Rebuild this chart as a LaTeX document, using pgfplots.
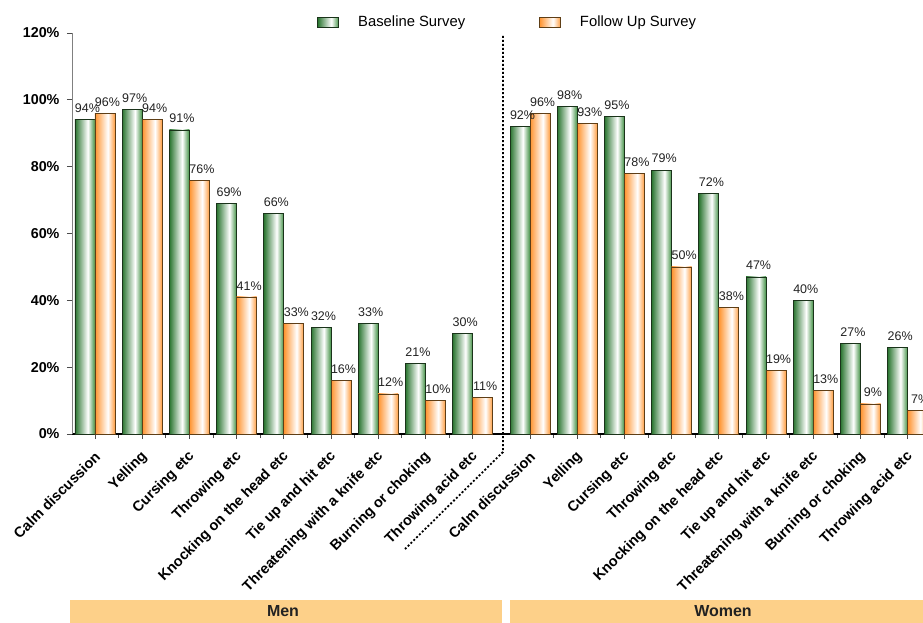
\documentclass[border=0pt]{standalone}
\usepackage{fontspec}
\setmainfont{Liberation Sans}
\usepackage{pgfplots}
\pgfplotsset{compat=1.18}
\definecolor{gdark}{HTML}{2A7530}
\definecolor{gright}{HTML}{3F8F42}
\definecolor{odark}{HTML}{FF9430}
\definecolor{oright}{HTML}{FF9C3E}
\definecolor{gline}{HTML}{1A331A}
\definecolor{oline}{HTML}{5E3E16}
\definecolor{banner}{HTML}{FDD089}
\definecolor{lbl}{HTML}{222222}
\pgfdeclarehorizontalshading{greenbar}{100bp}{color(0bp)=(gdark); color(25bp)=(gdark); color(57bp)=(white); color(75bp)=(gright); color(100bp)=(gright)}
\pgfdeclarehorizontalshading{orangebar}{100bp}{color(0bp)=(odark); color(25bp)=(odark); color(57bp)=(white); color(75bp)=(oright); color(100bp)=(oright)}
\pgfplotsset{
  gstyle/.style={ybar, bar width=0.4237, bar shift=0, draw=gline, line width=0.8pt, shade, shading=greenbar, forget plot},
  ostyle/.style={ybar, bar width=0.4237, bar shift=0, draw=oline, line width=0.8pt, shade, shading=orangebar, forget plot},
}
% one plot per bar so that each bar gets its own shading
\newcommand{\gbar}[2]{\addplot[gstyle] coordinates {(#1,#2)};}
\newcommand{\obar}[2]{\addplot[ostyle] coordinates {(#1,#2)};}
\begin{document}
\begin{tikzpicture}
\begin{axis}[
  at={(0pt,0pt)}, anchor=south west,
  scale only axis, width=851pt, height=401pt,
  xmin=-0.487, xmax=17.54, ymin=0, ymax=120,
  axis x line*=bottom, axis y line*=left,
  x axis line style={-, black, line width=1.6pt},
  y axis line style={-, gray, line width=1pt},
  tick align=outside,
  major tick length=5pt, minor tick length=4pt,
  tick style={black!70, line width=0.8pt},
  /pgf/number format/assume math mode=true,
  ytick={0,20,40,60,80,100,120},
  yticklabels={0\%,20\%,40\%,60\%,80\%,100\%,120\%},
  yticklabel style={font=\fontsize{14.3}{16}\selectfont\bfseries, xshift=-4pt},
  xtick={0,1,2,3,4,5,6,7,8,9.216,10.216,11.216,12.216,13.216,14.216,15.216,16.216,17.216},
  minor xtick={0.5,1.5,2.5,3.5,4.5,5.5,6.5,7.5,9.716,10.716,11.716,12.716,13.716,14.716,15.716,16.716},
  xticklabels={Calm discussion,Yelling,Cursing etc,Throwing etc,Knocking on the head etc,Tie up and hit etc,Threatening with a knife etc,Burning or choking,Throwing acid etc,Calm discussion,Yelling,Cursing etc,Throwing etc,Knocking on the head etc,Tie up and hit etc,Threatening with a knife etc,Burning or choking,Throwing acid etc},
  xticklabel style={font=\fontsize{14.5}{16}\selectfont\bfseries, rotate=45, anchor=east, inner sep=2pt, yshift=-12.7pt, xshift=-7pt},
  nodes near coords={\pgfmathprintnumber{\pgfplotspointmeta}\%},
  every node near coord/.append style={font=\fontsize{12.5}{14}\selectfont, text=lbl, anchor=south, inner sep=1.5pt, yshift=5pt, xshift=2.5pt},
  legend style={at={(0.512,1.027)}, anchor=center, draw=none, fill=none, legend columns=2,
    font=\fontsize{14.8}{16}\selectfont,
    /tikz/every even column/.append style={column sep=72pt},
    nodes={inner sep=2pt}},
]
\addlegendimage{legend image code/.code={\path[draw=gline, line width=0.8pt, shade, shading=greenbar] (0pt,-5pt) rectangle (21pt,5pt);}}
\addlegendentry{\hspace{17pt}Baseline Survey}
\addlegendimage{legend image code/.code={\path[draw=oline, line width=0.8pt, shade, shading=orangebar] (0pt,-5pt) rectangle (21pt,5pt);}}
\addlegendentry{\hspace{17pt}Follow Up Survey}
% Baseline Survey: Men
\gbar{-0.212}{94} \gbar{0.788}{97} \gbar{1.788}{91} \gbar{2.788}{69} \gbar{3.788}{66}
\gbar{4.788}{32} \gbar{5.788}{33} \gbar{6.788}{21} \gbar{7.788}{30}
% Baseline Survey: Women
\gbar{9.004}{92} \gbar{10.004}{98} \gbar{11.004}{95} \gbar{12.004}{79} \gbar{13.004}{72}
\gbar{14.004}{47} \gbar{15.004}{40} \gbar{16.004}{27} \gbar{17.004}{26}
% Follow Up Survey: Men
\obar{0.212}{96} \obar{1.212}{94} \obar{2.212}{76} \obar{3.212}{41} \obar{4.212}{33}
\obar{5.212}{16} \obar{6.212}{12} \obar{7.212}{10} \obar{8.212}{11}
% Follow Up Survey: Women
\obar{9.428}{96} \obar{10.428}{93} \obar{11.428}{78} \obar{12.428}{50} \obar{13.428}{38}
\obar{14.428}{19} \obar{15.428}{13} \obar{16.428}{9} \obar{17.428}{7}
\end{axis}
\draw[black, line width=1.8pt, dash pattern=on 2pt off 2pt] (431pt,398pt) -- (431pt,-18pt) -- (333pt,-115pt);
\fill[banner] (-2pt,-166pt) rectangle (430pt,-200pt);
\fill[banner] (438pt,-166pt) rectangle (870pt,-200pt);
\node[font=\fontsize{16}{18}\selectfont\bfseries, text=lbl] at (211pt,-177pt) {Men};
\node[font=\fontsize{16}{18}\selectfont\bfseries, text=lbl] at (651pt,-177pt) {Women};
\pgfresetboundingbox
\path[use as bounding box] (-72pt,-188pt) rectangle (851pt,434pt);
\end{tikzpicture}
\end{document}
